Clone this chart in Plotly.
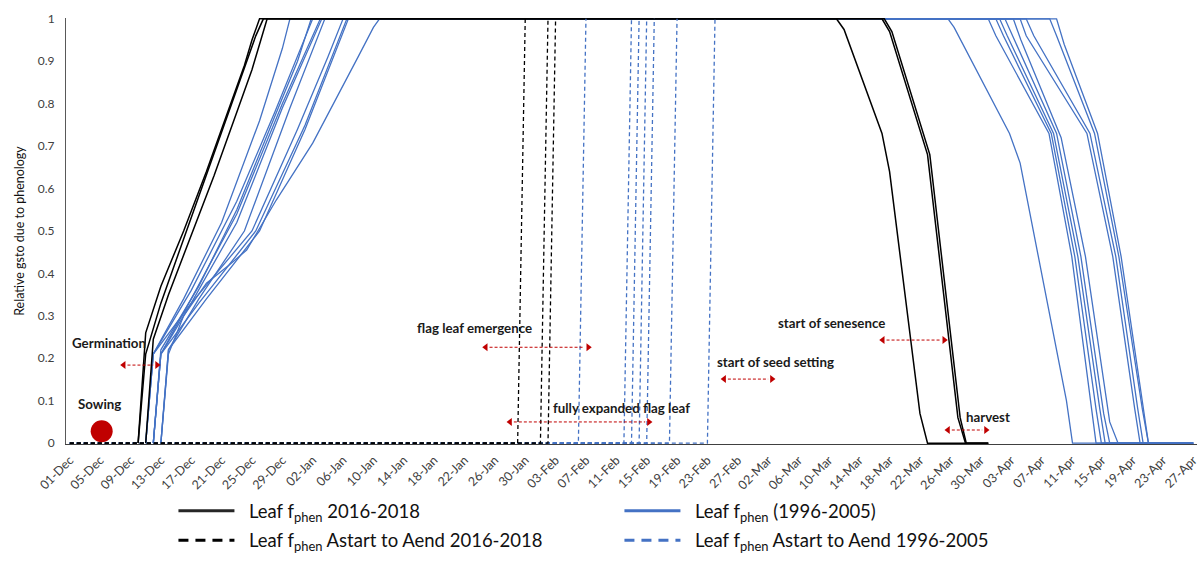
import plotly.graph_objects as go

# Season axis: day offsets from 01-Dec (leap-year season, Dec to Apr)
tick_days = list(range(0, 149, 4))
tick_labels = [
    "01-Dec", "05-Dec", "09-Dec", "13-Dec", "17-Dec", "21-Dec", "25-Dec", "29-Dec",
    "02-Jan", "06-Jan", "10-Jan", "14-Jan", "18-Jan", "22-Jan", "26-Jan", "30-Jan",
    "03-Feb", "07-Feb", "11-Feb", "15-Feb", "19-Feb", "23-Feb", "27-Feb",
    "02-Mar", "06-Mar", "10-Mar", "14-Mar", "18-Mar", "22-Mar", "26-Mar", "30-Mar",
    "03-Apr", "07-Apr", "11-Apr", "15-Apr", "19-Apr", "23-Apr", "27-Apr",
]

# Leaf f_phen 2016-2018: green-up (day, value) and senescence (day, value)
black_rise_days = [
    [9, 10, 12, 15, 18, 21, 23, 24, 25],
    [9, 10, 12, 15, 18, 21, 23, 24.5, 25.5],
    [10, 11, 13, 16, 19, 22, 24, 25, 26],
]
black_rise_vals = [
    [0, 0.26, 0.37, 0.50, 0.64, 0.79, 0.89, 0.95, 1],
    [0, 0.21, 0.33, 0.48, 0.63, 0.78, 0.88, 0.96, 1],
    [0, 0.245, 0.35, 0.49, 0.63, 0.78, 0.88, 0.94, 1],
]
black_fall_days = [
    [101, 102, 107, 108, 112, 113],
    [107, 108, 113, 117, 118],
    [107.3, 108.3, 113.3, 117.3, 118.1],
]
black_fall_vals = [
    [1, 0.975, 0.73, 0.64, 0.07, 0],
    [1, 0.97, 0.68, 0.06, 0],
    [1, 0.97, 0.68, 0.06, 0],
]
black_last_day = 121

# Leaf f_phen 1996-2005
blue_rise_days = [
    [10, 11, 15, 20, 25, 28, 29],
    [10, 11, 16, 22, 27, 30, 32],
    [11, 12, 16, 22, 28, 31, 33],
    [11, 12, 16, 22, 28, 31.5, 33.2],
    [12, 13, 17, 23, 29, 32, 33.6],
    [10, 11, 16, 24, 30, 34, 36],
    [11, 12, 17, 24.5, 31, 35, 36.5],
    [12, 13, 18, 25, 31, 35, 36.7],
    [12, 13, 15, 18, 21, 23.3, 27.2, 32, 38, 40, 40.8],
    [11, 12, 17, 22, 27, 30, 31.8],
]
blue_rise_vals = [
    [0, 0.21, 0.34, 0.52, 0.76, 0.93, 1],
    [0, 0.21, 0.36, 0.57, 0.78, 0.91, 1],
    [0, 0.21, 0.34, 0.54, 0.80, 0.92, 1],
    [0, 0.21, 0.33, 0.52, 0.79, 0.93, 1],
    [0, 0.22, 0.34, 0.50, 0.79, 0.93, 1],
    [0, 0.21, 0.33, 0.50, 0.74, 0.91, 1],
    [0, 0.21, 0.33, 0.50, 0.75, 0.93, 1],
    [0, 0.22, 0.34, 0.50, 0.74, 0.92, 1],
    [0, 0.21, 0.30, 0.377, 0.42, 0.455, 0.573, 0.707, 0.911, 0.98, 1],
    [0, 0.22, 0.37, 0.55, 0.77, 0.90, 1],
]
blue_fall_days = [
    [121, 122, 129, 132, 134.5, 135.2],
    [122, 123, 129.3, 132.4, 135.2, 135.9],
    [122.5, 123.5, 129.6, 132.8, 135.7, 136.4],
    [123.2, 124.2, 130, 133.2, 136.2, 137],
    [124.3, 125.3, 130.6, 133.8, 137, 138.1],
    [115.7, 116.5, 120.3, 123.8, 125.2, 127.8, 131.3, 132.1],
    [125.2, 126, 134, 137.4, 140.3, 141],
    [126, 127, 134.4, 137.8, 140.7, 141.4],
    [129.1, 130, 135, 138.2, 141.3, 142.1],
    [130, 131, 135.4, 138.5, 141.5, 142.1],
]
blue_fall_vals = [
    [1, 0.96, 0.73, 0.44, 0.10, 0],
    [1, 0.96, 0.73, 0.44, 0.08, 0],
    [1, 0.96, 0.73, 0.44, 0.08, 0],
    [1, 0.96, 0.73, 0.44, 0.07, 0],
    [1, 0.95, 0.72, 0.44, 0.05, 0],
    [1, 0.98, 0.85, 0.73, 0.66, 0.42, 0.10, 0],
    [1, 0.96, 0.73, 0.44, 0.08, 0],
    [1, 0.96, 0.73, 0.44, 0.08, 0],
    [1, 0.96, 0.73, 0.44, 0.08, 0],
    [1, 0.94, 0.73, 0.44, 0.07, 0],
]
blue_last_day = 148

# Astart to Aend markers: day on which the series steps up to 1
black_astart_days = [60, 63, 64]
blue_astart_days = [68, 74, 75, 76, 77, 80, 85]

# Phenology stage labels and their date ranges (day offsets)
stage_labels = ["Germination", "Sowing", "flag leaf emergence", "fully expanded flag leaf",
                "start of seed setting", "start of senesence", "harvest"]
stage_label_day = [0.0, 0.8, 45.5, 63.4, 85.0, 93.0, 117.8]
stage_label_val = [0.236, 0.092, 0.271, 0.083, 0.191, 0.283, 0.061]
range_start = [7.1, 54.8, 58.0, 86.2, 107.1, 115.7]
range_end = [11.5, 68.3, 76.3, 92.5, 115.2, 120.7]
range_level = [0.184, 0.226, 0.050, 0.151, 0.243, 0.031]
sowing_day = [4.2]
sowing_val = [0.028]

BLACK = "#000000"
BLUE = "#4472C4"
RED = "#C00000"
FONT = "Lato"

fig = go.Figure()


def season_curve(rise_d, rise_v, fall_d, fall_v, last):
    # series begins at germination and stays at 0 after senescence until its last day
    return rise_d + fall_d + [last], rise_v + fall_v + [0]


for rd, rv, fd, fv in zip(blue_rise_days, blue_rise_vals, blue_fall_days, blue_fall_vals):
    xs, ys = season_curve(rd, rv, fd, fv, blue_last_day)
    fig.add_trace(go.Scatter(x=xs, y=ys, mode="lines", line=dict(color=BLUE, width=1.3),
                             showlegend=False, hoverinfo="skip"))

for rd, rv, fd, fv in zip(black_rise_days, black_rise_vals, black_fall_days, black_fall_vals):
    xs, ys = season_curve(rd, rv, fd, fv, black_last_day)
    fig.add_trace(go.Scatter(x=xs, y=ys, mode="lines", line=dict(color=BLACK, width=1.5),
                             showlegend=False, hoverinfo="skip"))

for d in blue_astart_days:
    fig.add_trace(go.Scatter(x=[0, d - 1, d], y=[0, 0, 1], mode="lines",
                             line=dict(color=BLUE, width=1.3, dash="4px,3px"),
                             showlegend=False, hoverinfo="skip"))

for d in black_astart_days:
    fig.add_trace(go.Scatter(x=[0, d - 1, d], y=[0, 0, 1], mode="lines",
                             line=dict(color=BLACK, width=1.3, dash="4px,3px"),
                             showlegend=False, hoverinfo="skip"))

# Sowing date marker
fig.add_trace(go.Scatter(x=sowing_day, y=sowing_val, mode="markers",
                         marker=dict(color=RED, size=22, line=dict(width=0)),
                         showlegend=False, hoverinfo="skip"))

# Double-headed dashed range arrows: dashed shaft plus triangle heads
for x0, x1, yv in zip(range_start, range_end, range_level):
    fig.add_shape(type="line", x0=x0 + 0.5, x1=x1 - 0.5, y0=yv, y1=yv, xref="x", yref="y",
                  line=dict(color=RED, width=1, dash="3px,2px"))
fig.add_trace(go.Scatter(x=range_start, y=range_level, mode="markers",
                         marker=dict(symbol="triangle-left", size=7, color=RED, line=dict(width=0)),
                         showlegend=False, hoverinfo="skip"))
fig.add_trace(go.Scatter(x=range_end, y=range_level, mode="markers",
                         marker=dict(symbol="triangle-right", size=7, color=RED, line=dict(width=0)),
                         showlegend=False, hoverinfo="skip"))

# Legend entries (two rows)
PAD = "&nbsp;&nbsp;"
fig.add_trace(go.Scatter(x=[None], y=[None], mode="lines",
                         name=PAD + "Leaf f<sub>phen</sub> 2016-2018",
                         line=dict(color="#262626", width=3), legend="legend"))
fig.add_trace(go.Scatter(x=[None], y=[None], mode="lines",
                         name=PAD + "Leaf f<sub>phen</sub> (1996-2005)",
                         line=dict(color=BLUE, width=3), legend="legend"))
fig.add_trace(go.Scatter(x=[None], y=[None], mode="lines",
                         name=PAD + "Leaf f<sub>phen</sub> Astart to Aend 2016-2018",
                         line=dict(color="#000000", width=3, dash="10px,7px"), legend="legend2"))
fig.add_trace(go.Scatter(x=[None], y=[None], mode="lines",
                         name=PAD + "Leaf f<sub>phen</sub> Astart to Aend 1996-2005",
                         line=dict(color=BLUE, width=3, dash="10px,7px"), legend="legend2"))

# Stage labels
for txt, xd, yv in zip(stage_labels, stage_label_day, stage_label_val):
    fig.add_annotation(x=xd, y=yv, text="<b>" + txt + "</b>", showarrow=False,
                       xanchor="left", yanchor="middle",
                       font=dict(family=FONT, size=13.3, color="#1a1a1a"))

legend_common = dict(orientation="h", xanchor="left", yanchor="middle",
                     entrywidth=375, entrywidthmode="pixels", itemwidth=56,
                     font=dict(family=FONT, size=18.5, color="#111111"),
                     bgcolor="rgba(0,0,0,0)", traceorder="normal")

fig.update_layout(
    width=1199, height=579,
    margin=dict(l=66, r=2, t=18, b=135),
    paper_bgcolor="white", plot_bgcolor="white",
    font=dict(family=FONT, color="#404040"),
    legend=dict(x=0.095, y=-0.158, **legend_common),
    legend2=dict(x=0.095, y=-0.227, **legend_common),
    xaxis=dict(range=[-0.5, 148.5], tickmode="array", tickvals=tick_days, ticktext=tick_labels,
               tickangle=-45, tickfont=dict(family=FONT, size=12.5, color="#404040"),
               ticklabeloverflow="allow", ticklabelstandoff=3,
               showgrid=False, zeroline=False, showline=True, linecolor="#404040", linewidth=1,
               ticks="", automargin=False),
    yaxis=dict(range=[-0.002, 1.002], tickmode="array",
               tickvals=[0, 0.1, 0.2, 0.3, 0.4, 0.5, 0.6, 0.7, 0.8, 0.9, 1],
               ticktext=["0", "0.1", "0.2", "0.3", "0.4", "0.5", "0.6", "0.7", "0.8", "0.9", "1"],
               tickfont=dict(family=FONT, size=12, color="#404040"),
               showgrid=False, zeroline=False, showline=True, linecolor="#595959", linewidth=1,
               ticks="", ticklabelstandoff=8, automargin=False,
               title=dict(text="Relative gsto due to phenology", standoff=10,
                          font=dict(family=FONT, size=12.5, color="#111111"))),
)

fig.write_html("out.html")
